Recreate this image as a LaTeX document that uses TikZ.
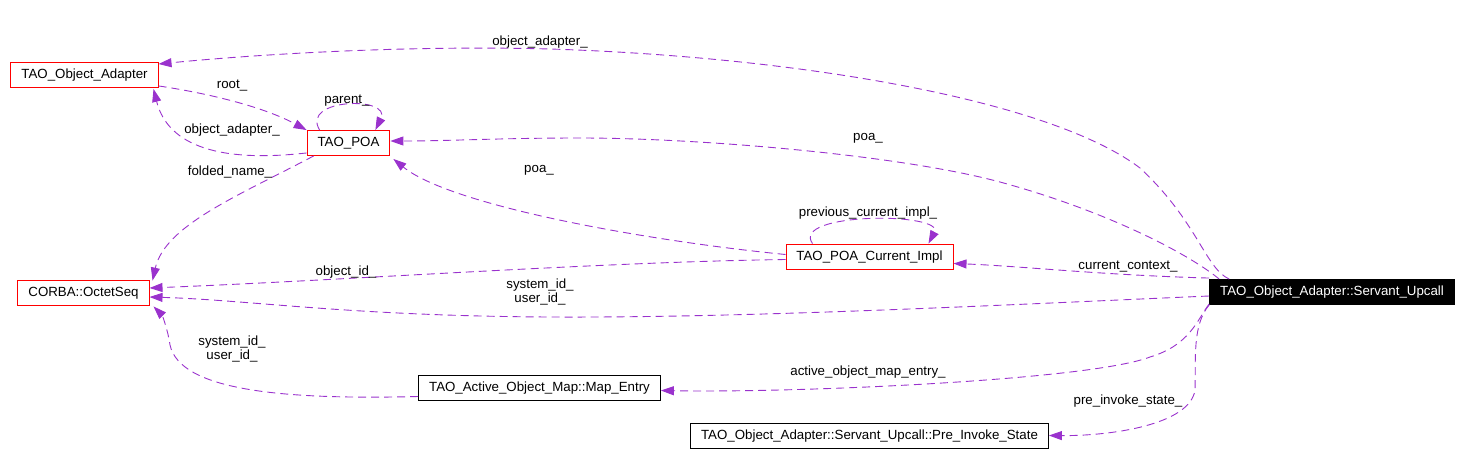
\documentclass[tikz,border=0pt]{standalone}
\usepackage{fontspec}
\setmainfont{Liberation Sans}
\usepackage{tikz}
\usetikzlibrary{positioning,calc,arrows.meta}
\definecolor{linkpurple}{RGB}{154,50,205}

\begin{document}
\begin{tikzpicture}[
    x=1pt, y=-1pt,
    font=\fontsize{13.3}{14}\selectfont,
    cls/.style={
        draw=black, rectangle, line width=0.9pt,
        inner xsep=10.5pt, inner ysep=0pt, minimum height=25pt,
        text height=10pt, text depth=3pt, fill=white
    },
    redcls/.style={cls, draw=red},
    focus/.style={cls, fill=black, text=white},
    link/.style={
        -{Triangle[length=13pt,width=9pt]}, draw=linkpurple,
        line width=0.9pt, dash pattern=on 8pt off 5pt
    },
    lbl/.style={align=center, inner sep=0pt, text height=10pt, text depth=3pt}
]
\useasboundingbox (0,0) rectangle (1463,466);

% Klassen
\node[redcls] (adapter) at (84.5,75) {TAO\_Object\_Adapter};
\node[redcls] (poa) at (348.5,143) {TAO\_POA};
\node[redcls] (octet) at (83.5,292.5) {CORBA::OctetSeq};
\node[redcls] (current) at (869.5,256.5) {TAO\_POA\_Current\_Impl};
\node[focus] (upcall) at (1332,292) {TAO\_Object\_Adapter::Servant\_Upcall};
\node[cls] (entry) at (539.5,387.5) {TAO\_Active\_Object\_Map::Map\_Entry};
\node[cls] (preinvoke) at (869.5,435.5) {TAO\_Object\_Adapter::Servant\_Upcall::Pre\_Invoke\_State};

% Beziehungen von Servant_Upcall
\draw[link] ($(upcall.north west)+(20,0)$) .. controls (1205,268) and (1198,222) .. (1140,168)
    .. controls (1050,100) and (800,57) .. (550,49)
    .. controls (400,45) and (250,55) .. ($(adapter.east)+(0,-11)$);
\draw[link] ($(upcall.north west)+(10,0)$) .. controls (1190,255) and (1110,212) .. (1000,182)
    .. controls (900,155) and (700,138) .. (580,138)
    .. controls (500,138) and (450,141) .. ($(poa.east)+(0,-2)$);
\draw[link] ($(upcall.north west)+(0,-1)$) .. controls (1100,275) and (1020,266) .. ($(current.east)+(0,7)$);
\draw[link] ($(upcall.west)+(0,4)$) .. controls (1000,305) and (750,318) .. (550,317)
    .. controls (350,316) and (250,300) .. ($(octet.east)+(0,4.5)$);
\draw[link] ($(upcall.south west)+(0,-1)$) .. controls (1197,320) and (1190,345) .. (1150,357)
    .. controls (1090,380) and (800,393) .. ($(entry.east)+(0,3)$);
\draw[link] (upcall.south west) .. controls (1192,325) and (1196,360) .. (1195,390)
    .. controls (1190,425) and (1110,436) .. (preinvoke.east);

% Beziehungen von TAO_POA_Current_Impl
\draw[link] ($(current.west)+(0,-2)$) .. controls (640,240) and (450,205) .. ($(poa.south east)+(3,3)$);
\draw[link] ($(current.west)+(0,3)$) .. controls (600,262) and (350,280) .. ($(octet.east)+(0,-4.5)$);
\draw[link] ($(current.north west)+(27,0)$) .. controls (790,212) and (945,212) .. ($(current.north east)+(-25,0)$);

% Beziehungen von TAO_POA und TAO_Object_Adapter
\draw[link] ($(poa.south west)+(7,0)$) .. controls (240,195) and (165,225) .. ($(octet.north east)+(3,1)$);
\draw[link] ($(poa.south west)+(0,-3)$) .. controls (200,165) and (165,135) .. ($(adapter.south east)+(-5,1)$);
\draw[link] ($(poa.north west)+(13,0)$) .. controls (300,98) and (392,96) .. ($(poa.north east)+(-15,0)$);
\draw[link] ($(adapter.south east)+(0,-2)$) .. controls (200,92) and (260,105) .. (poa.north west);
\draw[link] ($(entry.west)+(0,9)$) .. controls (280,400) and (180,390) .. (170,345)
    .. controls (168,330) and (162,315) .. ($(octet.south east)+(4,1)$);

% Beschriftungen
\node[lbl] (l-adapter) at (540,42) {object\_adapter\_};
\node[lbl] (l-poa) at (868,137) {poa\_};
\node[lbl] (l-curpoa) at (539,169) {poa\_};
\node[lbl] (l-context) at (1128,266) {current\_context\_};
\node[lbl] (l-objid) at (346,272) {object\_id\_};
\node[lbl] (l-sysid) at (540,299) {system\_id\_\\user\_id\_};
\node[lbl] (l-folded) at (230,172) {folded\_name\_};
\node[lbl] (l-entsys) at (232,356) {system\_id\_\\user\_id\_};
\node[lbl] (l-entry) at (868,372) {active\_object\_map\_entry\_};
\node[lbl] (l-pre) at (1128,401) {pre\_invoke\_state\_};
\node[lbl] (l-root) at (232,85) {root\_};
\node[lbl] (l-poaadapter) at (232,130) {object\_adapter\_};
\node[lbl] (l-parent) at (347,100) {parent\_};
\node[lbl] (l-prev) at (868,213) {previous\_current\_impl\_};

\end{tikzpicture}
\end{document}
